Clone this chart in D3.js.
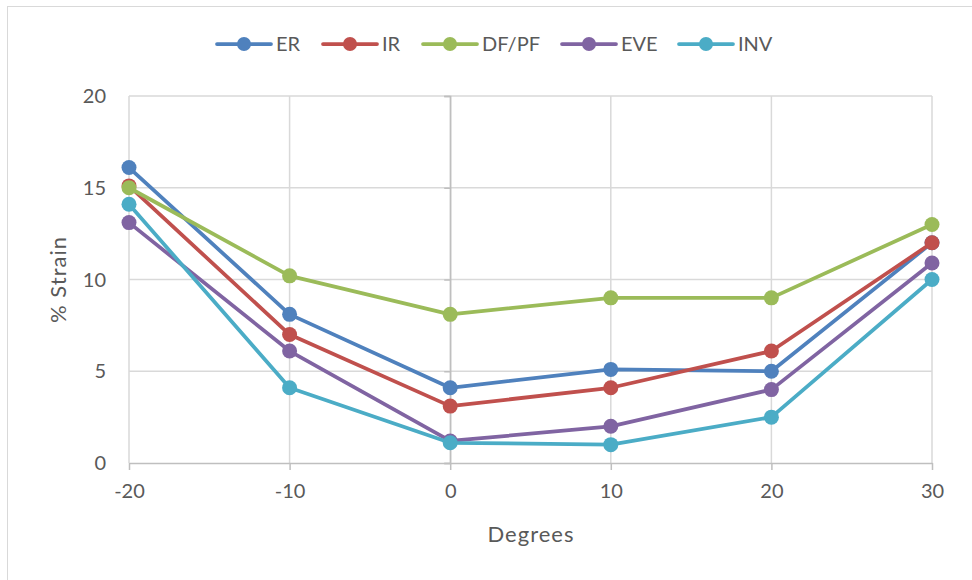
<!DOCTYPE html>
<html>
<head>
<meta charset="utf-8">
<script src="https://cdn.jsdelivr.net/npm/d3@7"></script>
<style>
  body { margin: 0; background: #fff; }
  svg { font-family: Lato, "Open Sans", sans-serif; }
</style>
</head>
<body>
<svg id="chart" width="972" height="580"></svg>
<script>
// data
const degrees = [-20, -10, 0, 10, 20, 30];
const seriesNames = ["ER", "IR", "DF/PF", "EVE", "INV"];
const erValues  = [16.1, 8.1, 4.1, 5.1, 5.0, 12.0];
const irValues  = [15.1, 7.0, 3.1, 4.1, 6.1, 12.0];
const dfValues  = [15.0, 10.2, 8.1, 9.0, 9.0, 13.0];
const eveValues = [13.1, 6.1, 1.2, 2.0, 4.0, 10.9];
const invValues = [14.1, 4.1, 1.1, 1.0, 2.5, 10.0];
const xTicks = [-20, -10, 0, 10, 20, 30];
const yTicks = [0, 5, 10, 15, 20];
const colors = ["#4f81bd", "#c0504d", "#9bbb59", "#8064a2", "#4bacc6"];

const series = [erValues, irValues, dfValues, eveValues, invValues]
    .map((vals, i) => ({
        name: seriesNames[i],
        color: colors[i],
        points: vals.map((v, j) => ({ x: degrees[j], y: v }))
    }));

const svg = d3.select("#chart");
const textColor = "#595959";

// outer chart frame (Excel style, cut off by the screenshot)
svg.append("rect")
    .attr("x", 7.5).attr("y", 6.5)
    .attr("width", 980).attr("height", 600)
    .attr("fill", "none").attr("stroke", "#d9d9d9");

const x = d3.scaleLinear().domain([-20, 30]).range([129, 932]);
const y = d3.scaleLinear().domain([0, 20]).range([463, 96]);

// gridlines
let grid = svg.append("g").attr("class", "grid");
grid.selectAll("line.h")
    .data(yTicks.filter(d => d > 0))
    .enter().append("line")
    .attr("x1", x(-20)).attr("x2", x(30))
    .attr("y1", d => y(d)).attr("y2", d => y(d))
    .attr("stroke", "#d9d9d9").attr("stroke-width", 1.5);
grid.selectAll("line.v")
    .data(xTicks)
    .enter().append("line")
    .attr("x1", d => x(d)).attr("x2", d => x(d))
    .attr("y1", y(20)).attr("y2", y(0))
    .attr("stroke", "#d9d9d9").attr("stroke-width", 1.5);

// vertical axis crossing at 0
const yAxis = d3.axisLeft(y).tickValues(yTicks).tickSize(6).tickFormat("");
svg.append("g")
    .attr("transform", `translate(${x(0)},0)`)
    .call(yAxis)
    .call(g => g.selectAll("line, path").attr("stroke", "#bfbfbf").attr("stroke-width", 1.5));

// y labels on the left edge
svg.append("g").selectAll("text")
    .data(yTicks)
    .enter().append("text")
    .attr("x", 106).attr("y", d => y(d))
    .attr("dy", "0.35em")
    .attr("text-anchor", "end")
    .attr("font-size", 20)
    .attr("fill", textColor)
    .text(d => d);

// bottom axis, plain hyphen for negatives like Excel
const xAxis = d3.axisBottom(x).tickValues(xTicks).tickSize(7).tickSizeOuter(0)
    .tickPadding(14).tickFormat(d => String(d));
svg.append("g")
    .attr("transform", `translate(0,${y(0)})`)
    .call(xAxis)
    .call(g => g.selectAll("line, path").attr("stroke", "#bfbfbf").attr("stroke-width", 1.5))
    .call(g => g.selectAll("text").attr("font-size", 20).attr("fill", textColor)
        .attr("font-family", "Lato, 'Open Sans', sans-serif"));

// axis titles
svg.append("text")
    .attr("x", 531).attr("y", 542)
    .attr("text-anchor", "middle")
    .attr("font-size", 22).attr("letter-spacing", 1)
    .attr("fill", textColor)
    .text("Degrees");
svg.append("text")
    .attr("transform", `translate(66,${y(10)}) rotate(-90)`)
    .attr("text-anchor", "middle")
    .attr("font-size", 22).attr("letter-spacing", 1)
    .attr("fill", textColor)
    .text("% Strain");

// lines and markers
const line = d3.line().x(d => x(d.x)).y(d => y(d.y));
let layers = svg.append("g").selectAll("g.series")
    .data(series)
    .enter().append("g")
    .attr("class", "series");
layers.append("path")
    .attr("d", d => line(d.points))
    .attr("fill", "none")
    .attr("stroke", d => d.color)
    .attr("stroke-width", 3.75)
    .attr("stroke-linejoin", "round");
layers.each(function(s) {
    d3.select(this).selectAll("circle")
        .data(s.points)
        .enter().append("circle")
        .attr("cx", d => x(d.x)).attr("cy", d => y(d.y))
        .attr("r", 7.5)
        .attr("fill", s.color);
});

// legend
const legendX = [217, 323, 423, 562, 679];
let legend = svg.append("g").selectAll("g.item")
    .data(series)
    .enter().append("g")
    .attr("transform", (d, i) => `translate(${legendX[i]},44)`);
legend.append("line")
    .attr("x1", 0).attr("x2", 54)
    .attr("stroke", d => d.color).attr("stroke-width", 3.75)
    .attr("stroke-linecap", "round");
legend.append("circle")
    .attr("cx", 27).attr("r", 7)
    .attr("fill", d => d.color);
legend.append("text")
    .attr("x", 59).attr("dy", "0.35em")
    .attr("font-size", 20).attr("fill", textColor)
    .text(d => d.name);
</script>
</body>
</html>
